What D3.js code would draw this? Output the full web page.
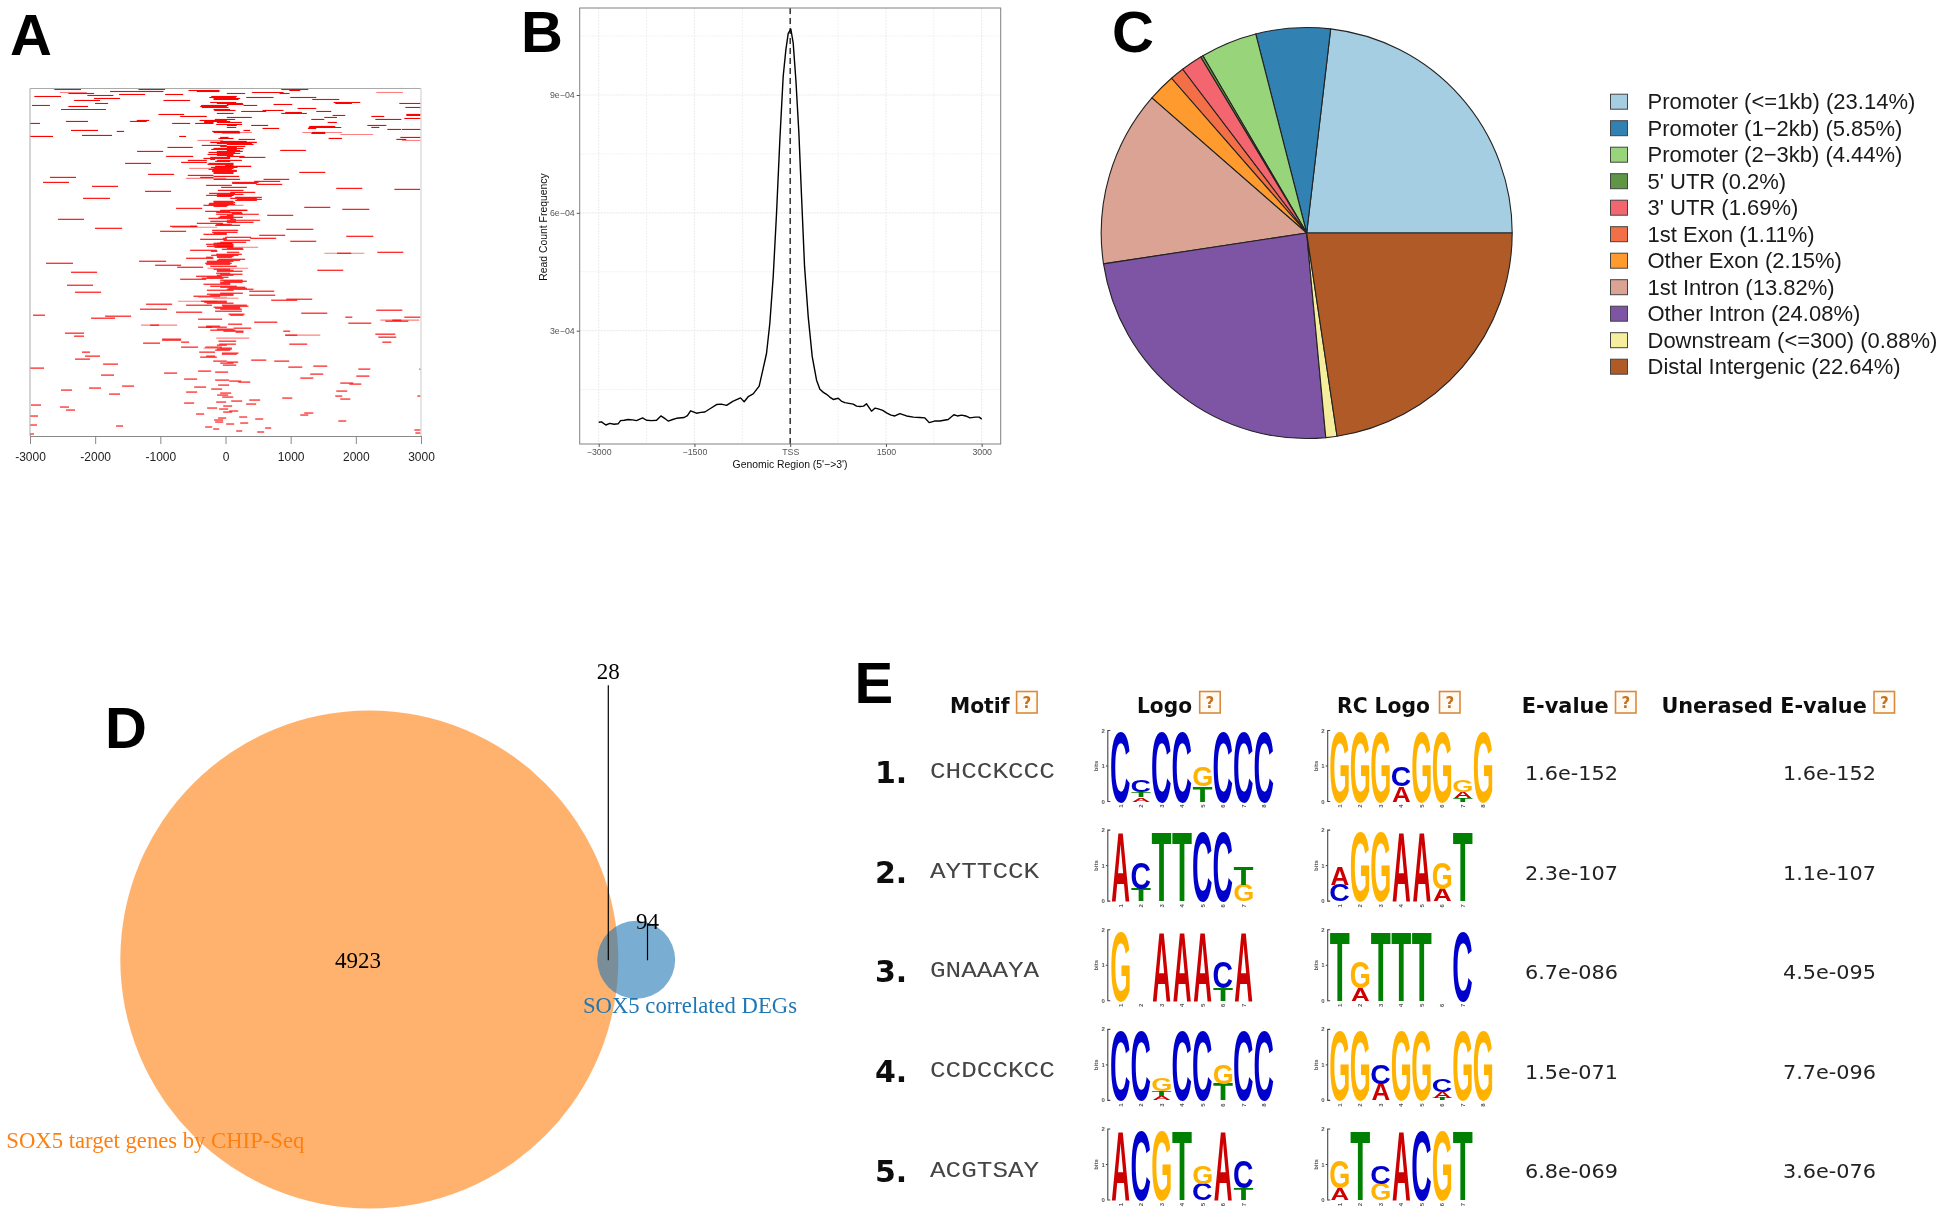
<!DOCTYPE html>
<html><head><meta charset="utf-8">
<script src="https://cdn.jsdelivr.net/npm/d3@7"></script>
<style>html,body{margin:0;padding:0;background:#fff}svg{display:block}</style>
</head><body><div id="chart"></div>
<script>
// ---------- Panel A : peak heatmap, [row, startBp, endBp]
const peakTicks=[-3000,-2000,-1000,0,1000,2000,3000];
const peaksRed=[[1,-2627,-2217],[1,-1336,-927],[1,855,1270],[2,-568,-92],[2,978,1147],[3,-1772,-1388],[3,-1388,-952],[3,-440,-92],[4,404,891],[5,-2412,-2017],[5,829,983],[5,20,302],[6,-1633,-1234],[6,-927,-650],[7,-2120,-1720],[8,-2934,-2524],[8,-220,174],[9,317,737],[9,993,1393],[9,-250,159],[10,-2017,-1618],[10,-184,225],[11,1331,1746],[11,-184,200],[12,-2324,-1925],[12,-952,-543],[14,1659,2068],[14,-235,164],[15,-2002,-1802],[15,1684,1940],[15,2667,3000],[15,-133,266],[16,737,1024],[16,20,276],[17,-2970,-2693],[17,276,486],[17,-374,46],[18,-2412,-2109],[18,-389,20],[19,2760,3000],[19,-364,46],[20,1106,1393],[21,-2524,-1833],[21,-184,72],[22,568,891],[22,-174,154],[23,1393,1623],[23,241,625],[24,916,1172],[25,855,1249],[25,-133,123],[26,-1029,-635],[26,2775,3000],[27,1644,1838],[27,2775,3000],[28,-696,-302],[28,2237,2437],[28,-440,-287],[29,1516,1710],[29,20,404],[30,2744,3000],[31,1316,1516],[31,2299,2698],[31,-164,148],[32,-1362,-1172],[32,-399,20],[33,-2447,-2109],[33,-1464,-1208],[33,-328,72],[34,1567,1710],[34,-328,-184],[34,-133,251],[35,-3000,-2847],[35,-819,-543],[35,-466,-184],[36,-143,256],[37,394,655],[37,2176,2468],[37,20,174],[38,1285,1684],[39,2237,2360],[39,1275,1777],[39,20,164],[40,568,824],[40,1265,1393],[41,2483,2698],[41,2708,3000],[42,-2371,-1956],[42,276,379],[43,-1669,-1556],[43,-205,215],[44,1326,1531],[44,-184,225],[45,1316,1531],[47,-2202,-1741],[48,-3000,-2647],[48,-712,-604],[49,-82,46],[49,2683,3000],[50,1582,1787],[50,-108,123],[51,200,456],[51,2621,2775],[53,-82,328],[54,-235,481],[55,-133,225],[55,72,404],[56,20,430],[57,-364,20],[58,-82,302],[59,-891,-502],[59,20,174],[60,-184,276],[61,-220,174],[62,840,1234],[62,20,225],[63,-1357,-957],[63,-133,266],[64,-261,148],[65,-133,225],[66,-276,123],[67,-133,123],[68,-911,-497],[68,20,292],[69,-235,72],[69,210,612],[70,-338,72],[71,-235,-159],[72,-579,-287],[72,-133,251],[73,-159,72],[74,-681,-287],[75,-1541,-1142],[75,-261,123],[76,-276,123],[77,-5,123],[78,-159,394],[79,-225,184],[80,-184,123],[81,-261,97],[82,-205,174],[83,-205,174],[84,1132,1531],[84,-184,123],[85,-184,123],[86,-1188,-788],[87,-579,-184],[88,-184,210],[89,-2693,-2294],[89,-389,-184],[91,584,978],[91,-184,225],[93,440,840],[94,-2801,-2401],[94,102,507],[95,102,481],[96,471,870],[97,-297,97],[98,-2048,-1649],[99,-67,328],[100,1700,2099],[101,2591,2990],[102,-118,276],[103,-1234,-835],[104,72,456],[105,-251,148],[106,-133,276],[107,-297,123],[107,-108,123],[108,-133,97],[109,148,558],[110,-2186,-1772],[110,72,481],[111,174,558],[112,148,481],[113,-184,123],[114,-184,148],[115,-251,123],[116,-261,148],[117,-338,46],[118,-184,20],[119,1208,1608],[120,-758,-358],[121,1792,2207],[122,-82,328],[122,72,338],[123,-312,72],[124,-143,251],[125,97,261],[126,-143,512],[127,640,1039],[127,20,123],[128,-82,123],[129,-108,266],[130,-261,123],[131,-2570,-2171],[131,72,159],[132,20,532],[133,-235,164],[134,20,430],[135,-440,-41],[136,-82,97],[136,-143,-31],[137,-159,225],[138,-850,-430],[138,-543,-440],[140,-2002,-1587],[141,932,1347],[142,-205,195],[143,-1004,-604],[144,-205,184],[145,-184,20],[146,-338,20],[147,517,916],[148,1853,2268],[149,-5,394],[150,379,778],[150,-41,20],[151,-389,20],[152,-31,379],[153,993,1393],[154,-82,317],[155,-184,108],[155,-130,100],[156,-297,123],[157,-184,123],[158,-133,108],[158,-287,123],[159,-169,123],[160,20,266],[161,-56,276],[162,-543,-133],[163,-225,-123],[164,2330,2729],[164,20,210],[165,1710,1930],[166,-143,251],[167,-220,200],[168,-133,123],[169,-297,-195],[169,-133,97],[170,-604,-184],[171,-108,302],[172,-133,225],[173,-1326,-911],[173,-287,123],[174,-287,72],[175,-2755,-2340],[175,-312,97],[176,-297,72],[177,-1080,-681],[178,-235,174],[179,-742,-343],[181,-184,72],[182,1408,1807],[182,-133,123],[183,-133,261],[184,-2371,-1971],[185,-143,72],[186,-82,261],[187,-133,123],[188,-451,-56],[189,-287,46],[190,-364,-31],[191,-696,-297],[192,-82,266],[193,-31,328],[194,-82,261],[195,-82,72],[196,-338,72],[197,-2432,-2033],[198,-235,174],[199,-82,302],[200,46,328],[201,20,430],[202,-287,123],[203,364,748],[204,-2309,-1910],[205,-82,266],[206,-287,123],[207,364,763],[207,-235,123],[208,-492,-82],[211,932,1331],[212,701,1101],[213,-374,20],[214,-328,20],[215,-287,123],[216,-1219,-819],[217,-604,-205],[217,-56,328],[218,-46,353],[219,-184,225],[220,-159,225],[221,-1311,-896],[221,-82,251],[222,2314,2714],[223,-159,251],[224,-758,-358],[225,1162,1562],[226,46,292],[227,-2954,-2770],[227,72,276],[228,-1848,-1449],[229,1838,1946],[229,2744,3000],[230,-2063,-1695],[231,-420,-51],[232,2560,2698],[233,2452,2806],[234,440,794],[235,1884,2237],[236,41,256],[237,-1157,-1019],[238,-297,-82],[239,-420,-205],[239,-297,20],[240,123,394],[241,-133,123],[242,-235,154],[243,886,993],[243,-31,276],[244,154,276],[245,-2463,-2171],[246,2299,2606],[247,916,1101],[248,-2324,-2171],[249,2345,2621],[251,-973,-681],[252,-973,-681],[253,-108,164],[254,2406,2545],[254,-681,-558],[255,-1265,-1004],[256,978,1254],[256,-97,159],[257,-133,20],[259,-681,-420],[259,-312,-56],[260,-82,97],[261,-133,97],[262,-159,72],[264,-2202,-2079],[264,-404,-159],[265,-56,200],[266,-56,174],[268,-2156,-1925],[268,-297,-159],[269,-389,-133],[271,-2309,-2079],[272,394,625],[273,748,978],[273,-189,20],[274,20,195],[275,-82,123],[276,-1879,-1649],[277,-41,164],[278,1347,1562],[279,963,1178],[280,-3000,-2785],[281,2038,2222],[281,2975,3000],[283,-420,-220],[284,-159,41],[285,-942,-742],[286,1300,1500],[287,-1910,-1710],[288,2007,2207],[290,1147,1347],[291,-635,-435],[292,-159,56],[293,56,241],[294,195,379],[295,1761,1961],[296,1900,2084],[297,-113,56],[298,-1587,-1403],[299,-481,-297],[300,-2094,-1910],[301,-220,-51],[302,-2524,-2355],[303,1700,1869],[304,-604,-435],[305,-82,87],[306,-1787,-1618],[307,-128,41],[308,1684,1792],[308,2944,3000],[309,-51,118],[310,870,1024],[311,1761,1915],[312,364,532],[313,87,256],[314,-143,10],[315,-635,-481],[316,317,471],[317,-2985,-2831],[318,-36,102],[319,-2540,-2401],[320,-282,-128],[321,-97,41],[322,-2447,-2309],[323,56,195],[324,-36,102],[325,1208,1347],[326,-451,-328],[327,1147,1270],[328,-3000,-2877],[329,210,333],[330,-113,10],[331,456,579],[332,-174,-36],[333,1731,1853],[334,-159,-36],[335,225,348],[336,10,133],[337,-3000,-2893],[338,-1679,-1572],[339,-312,-205],[340,609,701],[341,-189,-97],[342,2898,3000],[343,164,256],[344,486,594],[345,2913,3000],[346,-3000,-2939],[347,-3000,-2990]];
const peaksPink=[[4,-2540,-2130],[4,2314,2724],[44,1178,1787],[44,-5,404],[45,-56,225],[46,1761,2263],[52,-430,-41],[52,2708,3000],[80,-558,-184],[90,-604,10],[139,-819,-128],[159,123,502],[165,1516,2130],[180,-276,348],[209,-415,20],[210,-184,200],[213,-727,-128],[232,2376,2975],[237,-1295,-742],[247,916,1454],[250,-143,364],[260,-338,-82],[117,-108,276]];

// ---------- Panel B : read count frequency (x in bp, y in 1e-4)
const tagBp=[-3000,-2956,-2888,-2825,-2760,-2695,-2658,-2600,-2538,-2470,-2407,-2313,-2251,-2170,-2094,-2026,-1960,-1911,-1840,-1781,-1661,-1610,-1561,-1467,-1400,-1337,-1250,-1154,-1080,-997,-900,-778,-721,-658,-580,-486,-423,-371,-319,-266,-214,-162,-110,-68,-31,10,47,89,136,178,225,282,345,413,465,520,569,620,674,752,800,856,920,987,1040,1091,1150,1196,1274,1330,1379,1450,1509,1580,1640,1718,1822,1930,2031,2110,2178,2260,2345,2475,2564,2620,2684,2750,2815,2900,2961,3000];
const tagFreq=[0.67,0.68,0.60,0.64,0.62,0.63,0.71,0.72,0.74,0.73,0.71,0.78,0.72,0.71,0.72,0.83,0.76,0.70,0.74,0.77,0.79,0.84,0.96,0.90,0.92,0.93,1.02,1.12,1.13,1.10,1.20,1.29,1.19,1.32,1.39,1.59,2.04,2.42,3.19,4.38,5.99,7.86,9.47,10.15,10.57,10.68,10.32,9.38,8.03,6.41,4.63,3.36,2.34,1.74,1.51,1.43,1.38,1.31,1.25,1.28,1.21,1.17,1.15,1.13,1.08,1.07,1.08,1.14,0.95,1.03,1.01,0.97,0.91,0.85,0.83,0.89,0.83,0.80,0.79,0.78,0.66,0.70,0.70,0.74,0.86,0.83,0.85,0.83,0.78,0.80,0.80,0.75];
const tagXTicks=[-3000,-1500,0,1500,3000];
const tagXLabels=["−3000","−1500","TSS","1500","3000"];
const tagXMinor=[-2250,-750,750,2250];
const tagYTicks=[3,6,9];
const tagYMinor=[1.5,4.5,7.5,10.5];

// ---------- Panel C : genomic annotation
const annoNames=["Promoter (<=1kb)","Promoter (1−2kb)","Promoter (2−3kb)","5' UTR","3' UTR","1st Exon","Other Exon","1st Intron","Other Intron","Downstream (<=300)","Distal Intergenic"];
const annoValues=[23.14,5.85,4.44,0.2,1.69,1.11,2.15,13.82,24.08,0.88,22.64];
const annoColors=["#a6cee3","#3182b3","#98d47a","#5f9645","#f4666f","#f26f47","#ff9a2f","#dba394","#7e54a4","#f5ee9c","#b05a28"];

// ---------- Panel D : venn
const vennSets=["SOX5 target genes by CHIP-Seq","SOX5 correlated DEGs"];
const vennOnly=[4923,94];
const vennShared=28;

// ---------- Panel E : motif table; stacks bottom to top in bits
const motifIds=["CHCCKCCC","AYTTCCK","GNAAAYA","CCDCCKCC","ACGTSAY"];
const eValues=["1.6e-152","2.3e-107","6.7e-086","1.5e-071","6.8e-069"];
const unerasedValues=["1.6e-152","1.1e-107","4.5e-095","7.7e-096","3.6e-076"];
const tableHeads=["Motif","Logo","RC Logo","E-value","Unerased E-value"];
const logosForward=[
 [[["C",1.95]],[["A",.12],["T",.15],["C",.33]],[["C",1.95]],[["C",1.95]],[["T",.43],["G",.55]],[["C",1.95]],[["C",1.95]],[["C",1.95]]],
 [[["A",1.92]],[["T",.35],["C",.7]],[["T",1.92]],[["T",1.92]],[["C",1.92]],[["C",1.92]],[["G",.45],["T",.5]]],
 [[["G",1.92]],[],[["A",1.92]],[["A",1.92]],[["A",1.92]],[["T",.35],["C",.7]],[["A",1.92]]],
 [[["C",1.92]],[["C",1.92]],[["A",.12],["T",.14],["G",.36]],[["C",1.92]],[["C",1.92]],[["T",.45],["G",.55]],[["C",1.92]],[["C",1.92]]],
 [[["A",1.92]],[["C",1.92]],[["G",1.92]],[["T",1.92]],[["C",.45],["G",.5]],[["A",1.92]],[["T",.33],["C",.75]]]];
const logosReverse=[
 [[["G",1.95]],[["G",1.95]],[["G",1.95]],[["A",.43],["C",.55]],[["G",1.95]],[["G",1.95]],[["T",.1],["A",.17],["G",.33]],[["G",1.95]]],
 [[["C",.45],["A",.5]],[["G",1.92]],[["G",1.92]],[["A",1.92]],[["A",1.92]],[["A",.35],["G",.7]],[["T",1.92]]],
 [[["T",1.92]],[["A",.35],["G",.7]],[["T",1.92]],[["T",1.92]],[["T",1.92]],[],[["C",1.92]]],
 [[["G",1.92]],[["G",1.92]],[["A",.45],["C",.55]],[["G",1.92]],[["G",1.92]],[["T",.08],["A",.16],["C",.36]],[["G",1.92]],[["G",1.92]]],
 [[["A",.33],["G",.75]],[["T",1.92]],[["G",.45],["C",.5]],[["A",1.92]],[["C",1.92]],[["G",1.92]],[["T",1.92]]]];
const baseColors={A:"#cc0000",C:"#0000cc",G:"#ffb300",T:"#008000"};

// =================== drawing ===================
const BOLD='"Liberation Sans",Arial,sans-serif';
const svg=d3.select("#chart").append("svg").attr("width",1945).attr("height",1218).attr("font-family",BOLD);
const defs=svg.append("defs");
defs.append("filter").attr("id","soft").attr("x","-5%").attr("y","-5%").attr("width","110%").attr("height","110%").append("feGaussianBlur").attr("stdDeviation",0.45);
[["A",10,55],["B",521,52],["C",1112,52],["D",105,747.5],["E",854.6,702.7]].forEach(([t,x,y])=>
  svg.append("text").attr("x",x).attr("y",y).attr("font-size",58).attr("font-weight",700).attr("fill","#000").text(t));

// --- A
{
 const gA=svg.append("g").attr("filter","url(#soft)");
 const x=d3.scaleLinear().domain([-3000,3000]).range([30,421]);
 const y=d3.scaleLinear().domain([0,348]).range([88.5,436]);
 const draw=(arr,c)=>gA.append("g").selectAll("line").data(arr).join("line")
   .attr("x1",d=>x(d[1])).attr("x2",d=>x(d[2])).attr("y1",d=>y(d[0])).attr("y2",d=>y(d[0]))
   .attr("stroke",c).attr("stroke-width",1.1);
 draw(peaksPink,"#ff8080"); draw(peaksRed,"#ff0000");
 gA.append("path").attr("d",`M30,436V88.5H421`).attr("fill","none").attr("stroke","#aaa").attr("stroke-width",1);
 gA.append("path").attr("d",`M421,88.5V436`).attr("fill","none").attr("stroke","#ddd").attr("stroke-width",1.5);
 const ax=gA.append("g").attr("transform","translate(0,436)").call(d3.axisBottom(x).tickValues(peakTicks).tickFormat(String).tickSize(8).tickPadding(8));
 ax.selectAll("line,path").attr("stroke","#888");
 ax.selectAll("text").attr("font-size",12).attr("fill","#222").attr("font-family",BOLD);
}
// --- B
{
 const gB=svg.append("g").attr("filter","url(#soft)");
 const x=d3.scaleLinear().domain([-3000,3000]).range([598.7,981.7]);
 const y=d3.scaleLinear().domain([3,9]).range([330.7,95]);
 const L=579.7,R=1000.7,T=8,Bt=444;
 const vg=(arr,c,w)=>gB.append("g").selectAll("line").data(arr).join("line").attr("x1",d=>x(d)).attr("x2",d=>x(d)).attr("y1",T).attr("y2",Bt).attr("stroke",c).attr("stroke-width",w).attr("stroke-dasharray","2,1");
 const hg=(arr,c,w)=>gB.append("g").selectAll("line").data(arr).join("line").attr("y1",d=>y(d)).attr("y2",d=>y(d)).attr("x1",L).attr("x2",R).attr("stroke",c).attr("stroke-width",w).attr("stroke-dasharray","2,1");
 vg(tagXMinor,"#f1f1f4",1);hg(tagYMinor,"#f1f1f4",1);vg(tagXTicks,"#ebebef",1);hg(tagYTicks,"#ebebef",1.2);
 gB.append("line").attr("x1",x(0)).attr("x2",x(0)).attr("y1",T).attr("y2",Bt).attr("stroke","#333").attr("stroke-width",1.5).attr("stroke-dasharray","6,4");
 gB.append("path").datum(d3.zip(tagBp,tagFreq)).attr("fill","none").attr("stroke","#000").attr("stroke-width",1.4).attr("stroke-linejoin","round")
   .attr("d",d3.line().x(d=>x(d[0])).y(d=>y(d[1])));
 gB.append("rect").attr("x",L).attr("y",T).attr("width",R-L).attr("height",Bt-T).attr("fill","none").attr("stroke","#808080").attr("stroke-width",1);
 const ax=gB.append("g").attr("transform",`translate(0,${Bt})`).call(d3.axisBottom(x).tickValues(tagXTicks).tickFormat((d,i)=>tagXLabels[i]).tickSize(3).tickPadding(2));
 ax.select(".domain").remove();
 const ay=gB.append("g").attr("transform",`translate(${L},0)`).call(d3.axisLeft(y).tickValues(tagYTicks).tickFormat(d=>d+"e−04").tickSize(3).tickPadding(2));
 ay.select(".domain").remove();
 gB.selectAll(".tick line").attr("stroke","#555");
 gB.selectAll(".tick text").attr("font-size",8.8).attr("fill","#555").attr("font-family",BOLD);
 gB.append("text").attr("x",790).attr("y",468).attr("text-anchor","middle").attr("font-size",10.4).attr("fill","#111").text("Genomic Region (5'−>3')");
 gB.append("text").attr("transform","translate(546.5,227) rotate(-90)").attr("text-anchor","middle").attr("font-size",10.4).attr("fill","#111").text("Read Count Frequency");
}
// --- C
{
 const gC=svg.append("g").attr("transform","translate(1306.7,233)");
 const pie=d3.pie().sort(null).startAngle(Math.PI/2).endAngle(Math.PI/2-2*Math.PI);
 const arc=d3.arc().innerRadius(0).outerRadius(205.5);
 gC.selectAll("path").data(pie(annoValues)).join("path").attr("d",arc).attr("fill",(d,i)=>annoColors[i]).attr("stroke","#222").attr("stroke-width",1.1).attr("stroke-linejoin","round");
 const ly=d3.scaleLinear().domain([0,10]).range([101.7,366.7]);
 const lg=svg.append("g");
 annoNames.forEach((n,i)=>{
  lg.append("rect").attr("x",1610.5).attr("y",ly(i)-7.5).attr("width",17).attr("height",15).attr("fill",annoColors[i]).attr("stroke","#444").attr("stroke-width",1);
  lg.append("text").attr("x",1647.5).attr("y",ly(i)+7.6).attr("font-size",22).attr("fill","#1a1a1a").text(`${n} (${annoValues[i]}%)`);
 });
}
// --- D
{
 const gD=svg.append("g");
 gD.append("circle").attr("cx",369.3).attr("cy",959.5).attr("r",249).attr("fill","#ff7f0e").attr("fill-opacity",.6);
 gD.append("circle").attr("cx",636.2).attr("cy",959.8).attr("r",39).attr("fill","#1f77b4").attr("fill-opacity",.6);
 const SERIF='"Liberation Serif","Times New Roman",serif';
 const t=(x,y,str,c,len,anchor)=>{const e=gD.append("text").attr("x",x).attr("y",y).attr("font-family",SERIF).attr("font-size",23).attr("fill",c).attr("text-anchor",anchor||"middle").text(str); if(len)e.attr("textLength",len).attr("lengthAdjust","spacingAndGlyphs");return e;};
 gD.append("line").attr("x1",608.3).attr("x2",608.3).attr("y1",685.3).attr("y2",960.3).attr("stroke","#000").attr("stroke-width",1.2);
 gD.append("line").attr("x1",647.5).attr("x2",647.5).attr("y1",923.5).attr("y2",960.3).attr("stroke","#000").attr("stroke-width",1.2);
 t(608.3,679,vennShared,"#000");
 t(647.5,928.5,vennOnly[1],"#000");
 t(358,968,vennOnly[0],"#000");
 t(6.3,1148,vennSets[0],"#ff7f0e",298,"start");
 t(583,1013,vennSets[1],"#1f77b4",214,"start");
}
// --- E
{
 const gE=svg.append("g").attr("id","panelE").attr("filter","url(#soft)");
 const DJ='"DejaVu Sans",Verdana,sans-serif';
 const head=[[950,59.6,1016.6],[1137,55,1199.7],[1337,93,1439.5],[1521.7,87,1615.5],[1661.4,205.4,1874]];
 tableHeads.forEach((h,i)=>{
  gE.append("text").attr("x",head[i][0]).attr("y",713).attr("font-family",DJ).attr("font-weight",700).attr("font-size",20.5).attr("fill","#111")
    .attr("textLength",head[i][1]).attr("lengthAdjust","spacingAndGlyphs").text(h);
  gE.append("rect").attr("x",head[i][2]).attr("y",691.5).attr("width",20.5).attr("height",21.5).attr("fill","#fffaf4").attr("stroke","#d98a3d").attr("stroke-width",1.6);
  gE.append("text").attr("x",head[i][2]+10.25).attr("y",708).attr("text-anchor","middle").attr("font-family",DJ).attr("font-weight",700).attr("font-size",15).attr("fill","#c8711f").text("?");
 });
 const rowBase=d3.scaleLinear().domain([0,4]).range([801.5,1200]);
 const bits=d3.scaleLinear().domain([0,2]).range([0,71]);
 const metrics={A:{lsb:0,w:.722},C:{lsb:.047,w:.66},G:{lsb:.043,w:.69},T:{lsb:.021,w:.57}};
 const colStep=20.5,colW=18.7;
 function logo(stacks,axisX,startX,base){
  const g=gE.append("g");
  g.append("path").attr("d",`M${axisX+2.5},${base-71}H${axisX}V${base}H${axisX+2.5}`).attr("fill","none").attr("stroke","#444").attr("stroke-width",1.1);
  g.append("line").attr("x1",axisX-2).attr("x2",axisX).attr("y1",base-35.5).attr("y2",base-35.5).attr("stroke","#444");
  [0,1,2].forEach(v=>g.append("text").attr("x",axisX-3).attr("y",base-bits(v)+2).attr("text-anchor","end").attr("font-size",6).attr("font-weight",700).attr("fill","#555").text(v));
  g.append("text").attr("transform",`translate(${axisX-10},${base-35.5}) rotate(-90)`).attr("text-anchor","middle").attr("font-size",6).attr("font-weight",700).attr("fill","#555").text("bits");
  stacks.forEach((st,i)=>{
   const cx=startX+i*colStep; let y0=base;
   st.forEach(([L,b])=>{
    const h=bits(b),m=metrics[L];
    g.append("text").attr("transform",`translate(${cx-m.lsb*100*colW/(m.w*100)},${y0}) scale(${colW/(m.w*100)},${h/68.8})`)
     .attr("font-size",100).attr("font-weight",700).attr("font-family",BOLD).attr("fill",baseColors[L]).text(L);
    y0-=h;
   });
   g.append("text").attr("transform",`translate(${cx+colW/2+2},${base+3}) rotate(-90)`).attr("text-anchor","end").attr("font-size",6).attr("font-weight",700).attr("fill","#555").text(i+1);
  });
 }
 motifIds.forEach((id,i)=>{
  const b=rowBase(i);
  gE.append("text").attr("x",875).attr("y",b-18.5).attr("font-family",DJ).attr("font-weight",700).attr("font-size",30).attr("fill","#111").text((i+1)+".");
  gE.append("text").attr("x",930).attr("y",b-23.3).attr("font-family",'"Liberation Mono","Courier New",monospace').attr("font-size",22).attr("fill","#444")
    .attr("textLength",id.length*15.6).attr("lengthAdjust","spacingAndGlyphs").text(id);
  logo(logosForward[i],1107.8,1111.3,b);
  logo(logosReverse[i],1327.7,1330.5,b);
  gE.append("text").attr("x",1525).attr("y",b-21.6).attr("font-family",DJ).attr("font-size",19).attr("fill","#222").attr("textLength",93).attr("lengthAdjust","spacingAndGlyphs").text(eValues[i]);
  gE.append("text").attr("x",1783).attr("y",b-21.6).attr("font-family",DJ).attr("font-size",19).attr("fill","#222").attr("textLength",93).attr("lengthAdjust","spacingAndGlyphs").text(unerasedValues[i]);
 });
}
</script></body></html>
